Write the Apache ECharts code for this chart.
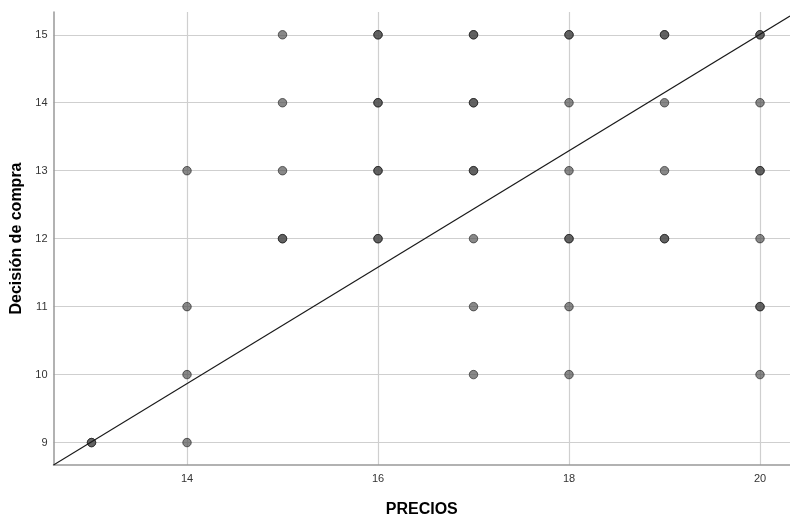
<!DOCTYPE html>
<html>
<head>
<meta charset="utf-8">
<script src="https://cdn.jsdelivr.net/npm/echarts@6/dist/echarts.min.js"></script>
<style>
html,body{margin:0;padding:0;background:#fff;overflow:hidden;}
#chart{width:790px;height:523px;}
</style>
</head>
<body>
<div id="chart"></div>
<script>
// Observations (PRECIOS, Decisión de compra); repeated pairs are overlapping cases
const precios  = [13, 13, 14, 14, 14, 14, 15, 15, 15, 15, 15, 16, 16, 16, 16, 16, 16, 16, 16,
                  17, 17, 17, 17, 17, 17, 17, 17, 17, 18, 18, 18, 18, 18, 18, 18, 18,
                  19, 19, 19, 19, 19, 19, 20, 20, 20, 20, 20, 20, 20, 20, 20];
const decision = [9, 9, 13, 11, 10, 9, 15, 14, 13, 12, 12, 15, 15, 14, 14, 13, 13, 12, 12,
                  15, 15, 14, 14, 13, 13, 12, 11, 10, 15, 15, 14, 13, 12, 12, 11, 10,
                  15, 15, 14, 13, 12, 12, 15, 15, 14, 13, 13, 12, 11, 11, 10];
const xTicks = [14, 16, 18, 20];
const yTicks = [9, 10, 11, 12, 13, 14, 15];
const xRange = [12.602, 20.314];
const yRange = [8.67, 15.335];
// Linear fit line: decision = intercept + slope * precios
const fitIntercept = -2.125;
const fitSlope = 0.8566;

const points = precios.map((p, i) => [p, decision[i]]);
const fitLine = xRange.map(x => [x, fitIntercept + fitSlope * x]);

const el = document.getElementById('chart');
const chart = echarts.init(el, null, {renderer: 'canvas'});
const axisFont = {fontFamily: 'Liberation Sans, Arial, sans-serif', fontSize: 11, color: '#333'};
chart.setOption({
  animation: false,
  backgroundColor: '#fff',
  grid: {left: 53.5, top: 12, right: 0, height: 458, containLabel: false},
  xAxis: {
    type: 'value', min: xRange[0], max: xRange[1],
    name: 'PRECIOS', nameLocation: 'middle', nameGap: 37,
    nameTextStyle: {fontFamily: 'Liberation Sans, Arial, sans-serif', fontSize: 16, fontWeight: 'bold', color: '#000'},
    axisLine: {show: true, lineStyle: {color: '#999', width: 1.5}},
    axisTick: {show: false, customValues: xTicks},
    axisLabel: Object.assign({customValues: xTicks, margin: 8}, axisFont),
    splitLine: {show: true, lineStyle: {color: '#cfcfcf', width: 1.2}}
  },
  yAxis: {
    type: 'value', min: yRange[0], max: yRange[1],
    name: 'Decisión de compra', nameLocation: 'middle', nameGap: 29,
    nameTextStyle: {fontFamily: 'Liberation Sans, Arial, sans-serif', fontSize: 16, fontWeight: 'bold', color: '#000'},
    axisLine: {show: true, lineStyle: {color: '#999', width: 1.5}},
    axisTick: {show: false, customValues: yTicks},
    axisLabel: Object.assign({customValues: yTicks, margin: 6}, axisFont),
    splitLine: {show: true, lineStyle: {color: '#cfcfcf', width: 1.2}}
  },
  series: [
    {
      type: 'scatter', data: points, symbolSize: 8.5,
      itemStyle: {color: 'rgba(80,80,80,0.85)', borderColor: 'rgba(30,30,30,0.8)', borderWidth: 1},
      z: 3
    },
    {
      type: 'line', data: fitLine, showSymbol: false, symbol: 'none',
      lineStyle: {color: '#1a1a1a', width: 1.1}, z: 4
    }
  ]
});
</script>
</body>
</html>
